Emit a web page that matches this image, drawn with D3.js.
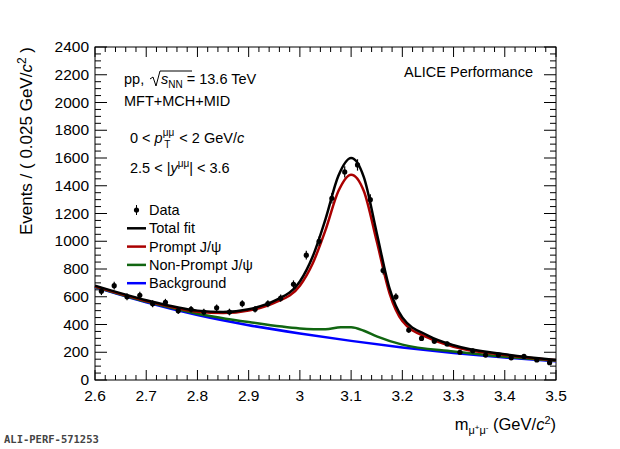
<!DOCTYPE html>
<html><head><meta charset="utf-8">
<script src="https://cdn.jsdelivr.net/npm/d3@7"></script>
<style>body{margin:0;background:#fff;} text{font-family:"Liberation Sans",Arial,sans-serif;}</style>
</head><body><svg id="c" width="620" height="449"></svg>
<script>
var dataX = [2.6125,2.6375,2.6625,2.6875,2.7125,2.7375,2.7625,2.7875,2.8125,2.8375,2.8625,2.8875,2.9125,2.9375,2.9625,2.9875,3.0125,3.0375,3.0625,3.0875,3.1125,3.1375,3.1625,3.1875,3.2125,3.2375,3.2625,3.2875,3.3125,3.3375,3.3625,3.3875,3.4125,3.4375,3.4625,3.4875];
var dataY = [640,680,600,610,550,560,500,510,490,520,490,550,510,550,590,690,900,1000,1310,1500,1550,1300,790,600,360,300,280,260,200,210,180,180,160,170,145,125];
var dataErr = [28,28,26,26,25,25,24,24,24,24,24,25,24,25,26,28,32,34,38,40,41,38,30,26,20,18,18,17,15,15,14,14,13,14,12,12];

var totX = [2.6,2.7,2.8,2.85,2.9,2.95,3.0,3.025,3.05,3.075,3.1,3.125,3.15,3.175,3.2,3.25,3.3,3.4,3.5];
var totY = [680,575,500,490,510,570,710,890,1160,1470,1600,1460,1060,660,450,320,250,185,145];
var promY = [675,570,492,482,500,555,680,840,1080,1360,1480,1360,1000,625,425,305,240,180,142];
var npX = [2.6,2.7,2.8,2.9,3.0,3.05,3.08,3.1,3.125,3.15,3.2,3.3,3.4,3.5];
var npY = [672,565,478,418,372,365,380,380,355,315,255,205,168,138];
var bgX = [2.6,2.7,2.8,2.9,3.0,3.1,3.2,3.3,3.4,3.5];
var bgY = [670,560,468,395,335,282,235,195,162,135];

var xTicks = [2.6,2.7,2.8,2.9,3,3.1,3.2,3.3,3.4,3.5];
var yTicks = d3.range(0,2401,200);

var svg = d3.select("#c");
var L = 95, R = 556, T = 47, B = 380;
var x = d3.scaleLinear().domain([2.6,3.5]).range([L,R]);
var y = d3.scaleLinear().domain([0,2400]).range([B,T]);

svg.append("rect").attr("x",L).attr("y",T).attr("width",R-L).attr("height",B-T)
  .attr("fill","none").attr("stroke","#000");

// ticks
var g = svg.append("g");
d3.range(2.6,3.5001,0.02).forEach(function(v){
  var big = Math.abs(v*10-Math.round(v*10))<1e-6;
  var len = big?10:5;
  g.append("line").attr("x1",x(v)).attr("x2",x(v)).attr("y1",B).attr("y2",B-len).attr("stroke","#000");
  g.append("line").attr("x1",x(v)).attr("x2",x(v)).attr("y1",T).attr("y2",T+len).attr("stroke","#000");
});
d3.range(0,2401,50).forEach(function(v){
  var len = v%200==0?12:6;
  g.append("line").attr("x1",L).attr("x2",L+len).attr("y1",y(v)).attr("y2",y(v)).attr("stroke","#000");
  g.append("line").attr("x1",R).attr("x2",R-len).attr("y1",y(v)).attr("y2",y(v)).attr("stroke","#000");
});
xTicks.forEach(function(v){
  g.append("text").attr("x",x(v)).attr("y",B+21).attr("text-anchor","middle").attr("font-size",15.5).text(v);
});
yTicks.forEach(function(v){
  g.append("text").attr("x",L-6).attr("y",y(v)+5).attr("text-anchor","end").attr("font-size",15.5).text(v);
});

var line = d3.line().x(function(d){return x(d[0]);}).y(function(d){return y(d[1]);}).curve(d3.curveMonotoneX);
var clip = svg.append("g");
function curve(xs, ys, col){
  clip.append("path").attr("d", line(d3.zip(xs,ys))).attr("fill","none").attr("stroke",col).attr("stroke-width",2.5);
}
curve(bgX,bgY,"#0000ff");
curve(npX,npY,"#116611");
curve(totX,promY,"#aa0000");
curve(totX,totY,"#000000");

// data points
dataX.forEach(function(v,i){
  svg.append("line").attr("x1",x(v)).attr("x2",x(v)).attr("y1",y(dataY[i]-dataErr[i])).attr("y2",y(dataY[i]+dataErr[i])).attr("stroke","#000").attr("stroke-width",1.2);
  svg.append("circle").attr("cx",x(v)).attr("cy",y(dataY[i])).attr("r",2.6).attr("fill","#000");
});

// texts
function t(xp,yp,size,html,anchor){
  var e = svg.append("text").attr("x",xp).attr("y",yp).attr("font-size",size).attr("text-anchor",anchor||"start");
  e.html(html); return e;
}
t(124,84,14.5,'pp, ');
svg.append("path").attr("d","M150,79 l3,-2 l3,9 l4,-15 h32").attr("fill","none").attr("stroke","#000").attr("stroke-width",1);
t(161,84,14.5,'<tspan font-style="italic">s</tspan><tspan font-size="10" dy="4">NN</tspan><tspan dy="-4"> = 13.6 TeV</tspan>');
t(124,106,14.5,'MFT+MCH+MID');
t(130,143,14.5,'0 &lt; <tspan font-style="italic">p</tspan><tspan font-size="10" dy="-7">μμ</tspan><tspan font-size="10" dx="-10" dy="12">T</tspan><tspan dy="-5" dx="5"> &lt; 2 GeV/</tspan><tspan font-style="italic">c</tspan>');
t(130,173,14.5,'2.5 &lt; |<tspan font-style="italic">y</tspan><tspan font-size="10" dy="-6">μμ</tspan><tspan dy="6">| &lt; 3.6</tspan>');
t(533,77,14.5,'ALICE Performance','end');

var leg = [["Data",null],["Total fit","#000"],["Prompt J/ψ","#aa0000"],["Non-Prompt J/ψ","#116611"],["Background","#0000ff"]];
leg.forEach(function(d,i){
  var yy = 210 + i*18.3;
  if(d[1]){
    svg.append("line").attr("x1",127).attr("x2",146).attr("y1",yy).attr("y2",yy).attr("stroke",d[1]).attr("stroke-width",2.5);
  } else {
    svg.append("line").attr("x1",136.5).attr("x2",136.5).attr("y1",yy-5).attr("y2",yy+5).attr("stroke","#000");
    svg.append("circle").attr("cx",136.5).attr("cy",yy).attr("r",2.6);
  }
  t(149,yy+5,14.5,d[0]);
});

t(556,430,16.5,'m<tspan font-size="11" dy="4">μ</tspan><tspan font-size="8" dy="-4">+</tspan><tspan font-size="11" dy="4">μ</tspan><tspan font-size="8" dy="-4">-</tspan><tspan dy="0"> (GeV/</tspan><tspan font-style="italic">c</tspan><tspan font-size="11" dy="-6">2</tspan><tspan dy="6">)</tspan>','end');
t(0,0,17,'Events / ( 0.025 GeV/<tspan font-style="italic">c</tspan><tspan font-size="12" dy="-6">2</tspan><tspan dy="6"> )</tspan>','end')
  .attr("transform","translate(32,47) rotate(-90)");
svg.append("text").attr("x",4).attr("y",443).attr("font-size",10.5).attr("font-weight","bold").style("font-family","'DejaVu Sans Mono',monospace").attr("fill","#444").text("ALI-PERF-571253");
</script></body></html>
